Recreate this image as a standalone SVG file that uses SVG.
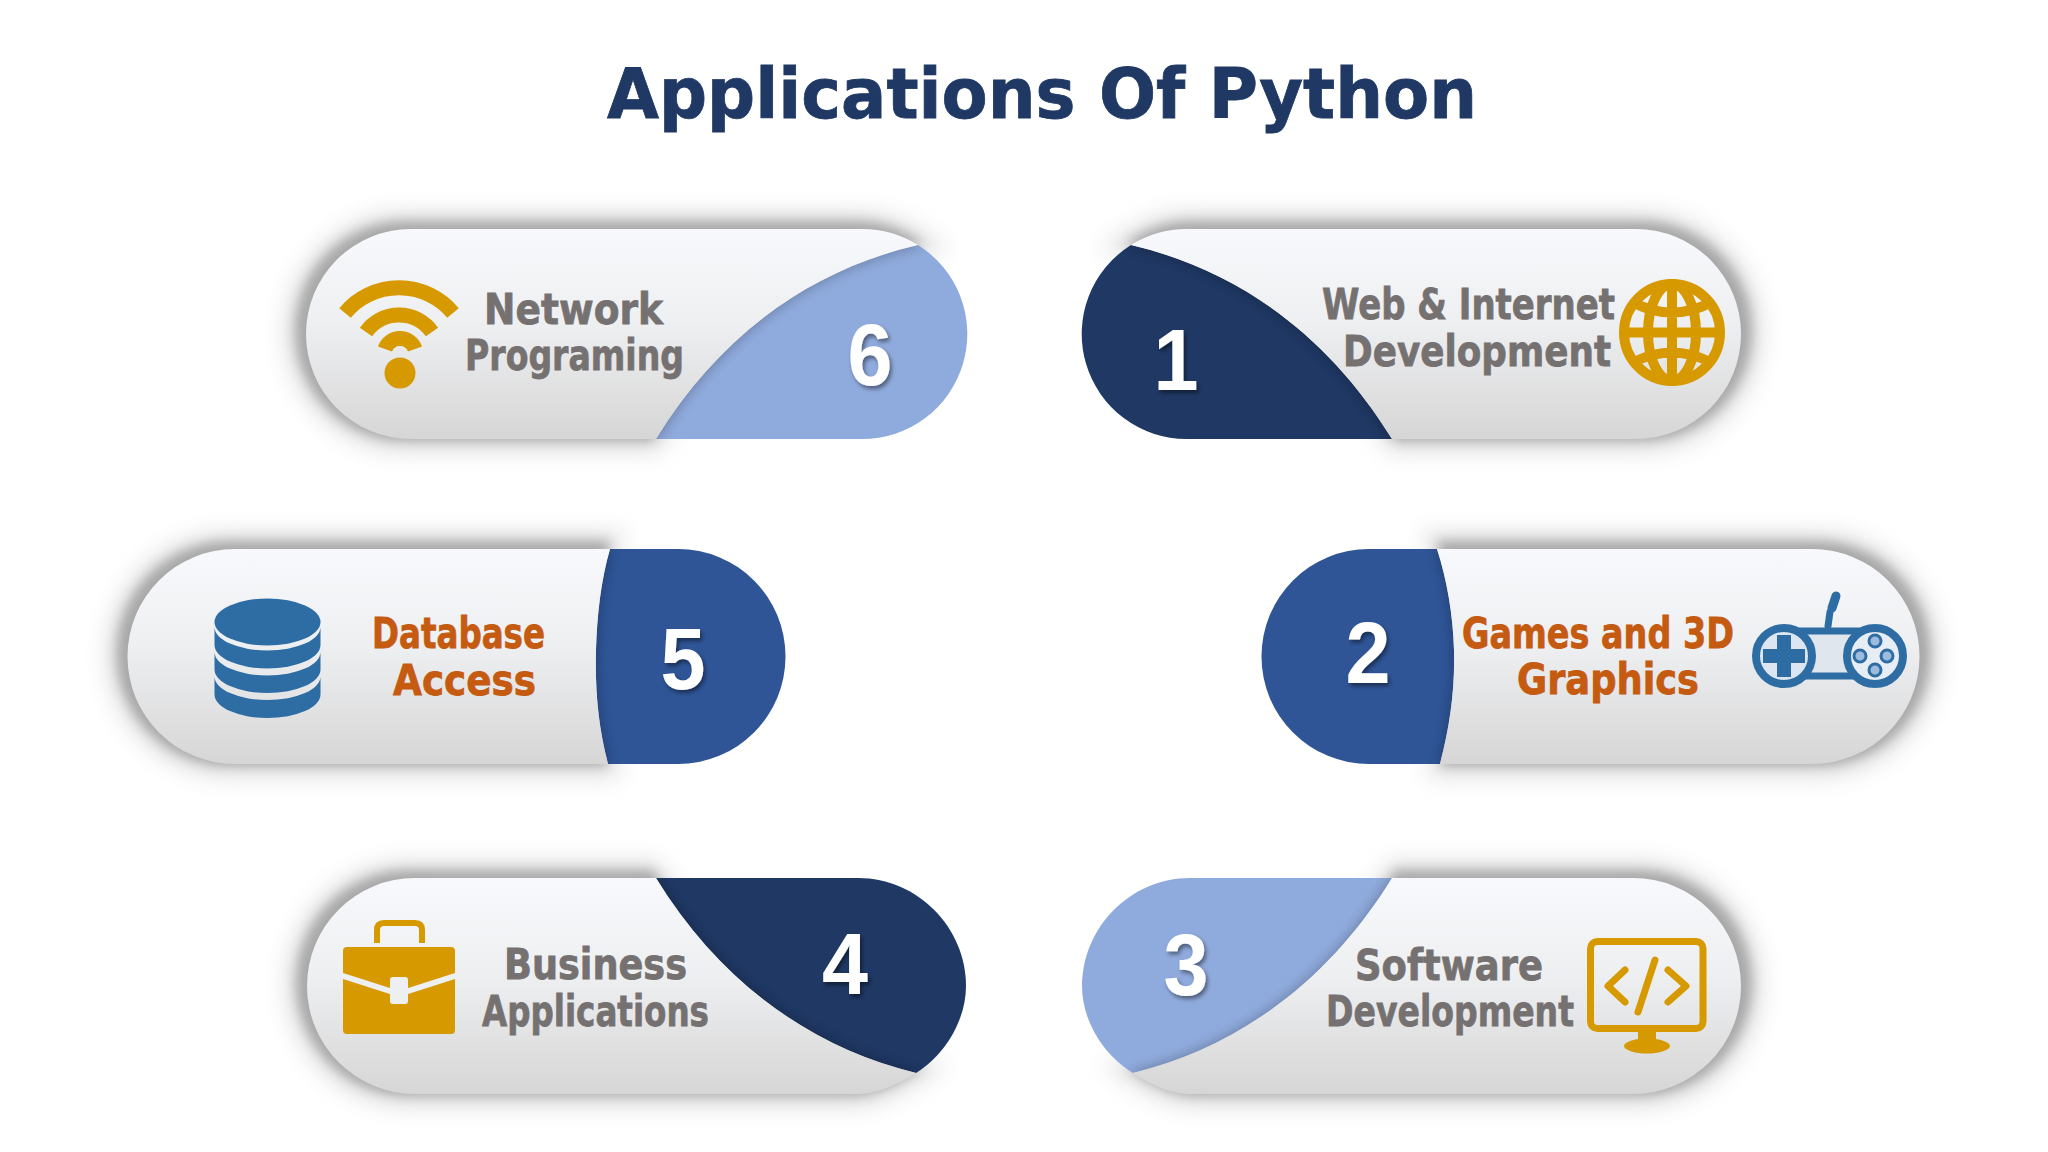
<svg xmlns="http://www.w3.org/2000/svg" xmlns:xlink="http://www.w3.org/1999/xlink" width="2048" height="1152" viewBox="0 0 2048 1152">
<style>
.title{font:bold 69px "DejaVu Sans",Verdana,sans-serif;fill:#1f3864;stroke:#1f3864;stroke-width:.8}
.lb{font:bold 42px "DejaVu Sans",Verdana,sans-serif;fill:#767171;stroke:#767171;stroke-width:.8}
.or{fill:#c55a11;stroke:#c55a11}
.num{font:bold 88px "Liberation Sans",Arial,sans-serif;fill:#fff;text-anchor:middle;filter:url(#ts)}
.pill{fill:url(#pg)}
.sh{fill:#707070;stroke:#707070;stroke-width:10;filter:url(#bl);opacity:.5}
.sh2{fill:#aaa;stroke:#aaa;stroke-width:30;filter:url(#bl2);opacity:.36}
.ish{fill:#000;stroke:#000;stroke-width:4;filter:url(#bl);opacity:.22}
.gold{fill:#d69a00}
.gs{fill:none;stroke:#d69a00}
.bl{fill:#2e6da4}
.bs{fill:none;stroke:#2e6da4}
</style>
<defs>
<linearGradient id="pg" x1="0" y1="0" x2="0" y2="1"><stop offset="0" stop-color="#f7f9fc"/><stop offset=".45" stop-color="#eeeff1"/><stop offset="1" stop-color="#d6d6d6"/></linearGradient>
<filter id="bl" x="-10%" y="-25%" width="120%" height="150%"><feGaussianBlur stdDeviation="6"/></filter>
<filter id="bl2" x="-10%" y="-30%" width="120%" height="160%"><feGaussianBlur stdDeviation="11"/></filter>
<filter id="ts" x="-30%" y="-30%" width="170%" height="170%"><feDropShadow dx="2" dy="3" stdDeviation="2" flood-color="#000" flood-opacity=".45"/></filter>
<path id="g6" d="M411 229H862A105 105 0 0 1 918 245C810 270 720 335 656 439H411A105 105 0 0 1 411 229Z"/>
<path id="g1" d="M1636 229H1187A105 105 0 0 0 1131 245C1238 270 1328 335 1392 439H1636A105 105 0 0 0 1636 229Z"/>
<path id="g2" d="M1437 549H1812A107.500 107.500 0 0 1 1812 764H1440C1450 725 1455 690 1454 650C1453 615 1447 580 1437 549Z"/>
<path id="g5" d="M610 549H235A107.500 107.500 0 0 0 235 764H608C598 725 595 690 596 650C597 615 601 580 610 549Z"/>
<path id="g4" d="M415 878H656C720 982 810 1047 916 1073C895 1086 875 1094 858 1094H415A108 108 0 0 1 415 878Z"/>
<path id="g3" d="M1633 878H1392C1328 982 1238 1047 1133 1073C1153 1086 1173 1094 1190 1094H1633A108 108 0 0 0 1633 878Z"/>
<clipPath id="c6"><path d="M918 245A105 105 0 0 1 862 439H656C720 335 810 270 918 245Z"/></clipPath>
<clipPath id="c1"><path d="M1131 245A105 105 0 0 0 1187 439H1392C1328 335 1238 270 1131 245Z"/></clipPath>
<clipPath id="c2"><path d="M1437 549H1369A107.500 107.500 0 0 0 1369 764H1440C1450 725 1455 690 1454 650C1453 615 1447 580 1437 549Z"/></clipPath>
<clipPath id="c5"><path d="M610 549H678A107.500 107.500 0 0 1 678 764H608C598 725 595 690 596 650C597 615 601 580 610 549Z"/></clipPath>
<clipPath id="c4"><path d="M656 878H858C918 878 966 928 966 986C966 1020 945 1055 916 1073C810 1047 720 982 656 878Z"/></clipPath>
<clipPath id="c3"><path d="M1392 878H1190C1130 878 1082 928 1082 986C1082 1020 1103 1055 1133 1073C1238 1047 1328 982 1392 878Z"/></clipPath>
</defs>
<rect width="2048" height="1152" fill="#fff"/>
<text class="title" x="607" y="118" textLength="870" lengthAdjust="spacingAndGlyphs">Applications Of Python</text>

<g id="node-6">
<use href="#g6" class="sh2" x="-6" y="-2"/><use href="#g6" class="sh" x="-6" y="-3"/>
<path fill="#8faadc" d="M918 245A105 105 0 0 1 862 439H656C720 335 810 270 918 245Z"/>
<g clip-path="url(#c6)"><use href="#g6" class="ish"/></g>
<use href="#g6" class="pill"/>
<text class="num" x="870" y="385" textLength="45" lengthAdjust="spacingAndGlyphs">6</text>
<text class="lb" x="484" y="324" textLength="179" lengthAdjust="spacingAndGlyphs">Network</text>
<text class="lb" x="465" y="370" textLength="219" lengthAdjust="spacingAndGlyphs">Programing</text>
<g class="gs" stroke-width="15"><path d="M345 313A70.500 70.500 0 0 1 453 313"/><path d="M366 332A40.500 40.500 0 0 1 432 332"/><path d="M385 349A16 16 0 0 1 415 349"/></g>
<circle class="gold" cx="400" cy="373" r="15.500"/>
</g>

<g id="node-1">
<use href="#g1" class="sh2" x="6" y="-2"/><use href="#g1" class="sh" x="6" y="-3"/>
<path fill="#1f3864" d="M1131 245A105 105 0 0 0 1187 439H1392C1328 335 1238 270 1131 245Z"/>
<g clip-path="url(#c1)"><use href="#g1" class="ish"/></g>
<use href="#g1" class="pill"/>
<text class="num" x="1176" y="390" textLength="45" lengthAdjust="spacingAndGlyphs">1</text>
<text class="lb" x="1322" y="319" textLength="293" lengthAdjust="spacingAndGlyphs">Web &amp; Internet</text>
<text class="lb" x="1343" y="366" textLength="268" lengthAdjust="spacingAndGlyphs">Development</text>
<g class="gs" stroke-width="10"><ellipse cx="1672" cy="332.500" rx="48" ry="48.500"/><ellipse cx="1672" cy="332.500" rx="24" ry="48.500"/><path d="M1672 284V381M1624 332.500H1720M1634 303Q1672 322 1710 303M1634 362Q1672 343 1710 362"/></g>
</g>

<g id="node-2">
<use href="#g2" class="sh2" x="6" y="-2"/><use href="#g2" class="sh" x="6" y="-3"/>
<path fill="#2f5597" d="M1437 549H1369A107.500 107.500 0 0 0 1369 764H1440C1450 725 1455 690 1454 650C1453 615 1447 580 1437 549Z"/>
<g clip-path="url(#c2)"><use href="#g2" class="ish"/></g>
<use href="#g2" class="pill"/>
<text class="num" x="1368" y="683" textLength="45" lengthAdjust="spacingAndGlyphs">2</text>
<text class="lb or" x="1462" y="648" textLength="272" lengthAdjust="spacingAndGlyphs">Games and 3D</text>
<text class="lb or" x="1517" y="694" textLength="182" lengthAdjust="spacingAndGlyphs">Graphics</text>
<path class="bs" stroke-width="7" stroke-linecap="round" d="M1828 626L1830 612"/>
<path class="bs" stroke-width="9" stroke-linecap="round" d="M1832 608L1836 596"/>
<rect x="1800" y="631" width="60" height="45" fill="#dfe6ee" stroke="#2e6da4" stroke-width="7"/>
<circle cx="1784" cy="656" r="28" fill="#dce6f1" stroke="#2e6da4" stroke-width="8"/>
<circle cx="1875" cy="656" r="28" fill="#e6edf5" stroke="#2e6da4" stroke-width="8"/>
<path class="bl" d="M1777 635H1791V649H1805V663H1791V677H1777V663H1763V649H1777Z"/>
<g fill="#9dbbdc" stroke="#2e6da4" stroke-width="3"><circle cx="1875" cy="641" r="6"/><circle cx="1860" cy="656" r="6"/><circle cx="1887" cy="656" r="6"/><circle cx="1875" cy="670" r="6"/></g>
</g>

<g id="node-5">
<use href="#g5" class="sh2" x="-6" y="-2"/><use href="#g5" class="sh" x="-6" y="-3"/>
<path fill="#2f5597" d="M610 549H678A107.500 107.500 0 0 1 678 764H608C598 725 595 690 596 650C597 615 601 580 610 549Z"/>
<g clip-path="url(#c5)"><use href="#g5" class="ish"/></g>
<use href="#g5" class="pill"/>
<text class="num" x="683" y="689" textLength="45" lengthAdjust="spacingAndGlyphs">5</text>
<text class="lb or" x="372" y="648" textLength="173" lengthAdjust="spacingAndGlyphs">Database</text>
<text class="lb or" x="393" y="695" textLength="143" lengthAdjust="spacingAndGlyphs">Access</text>
<ellipse class="bl" cx="267.500" cy="622" rx="53" ry="23.500"/>
<path class="bl" d="M214.500 627A53 23.500 0 0 0 320.500 627V645A53 23.500 0 0 1 214.500 645Z"/>
<path class="bl" d="M214.500 652A53 23.500 0 0 0 320.500 652V669.500A53 23.500 0 0 1 214.500 669.500Z"/>
<path class="bl" d="M214.500 676.500A53 23.500 0 0 0 320.500 676.500V694.500A53 23.500 0 0 1 214.500 694.500Z"/>
</g>

<g id="node-4">
<use href="#g4" class="sh2" x="-6" y="-2"/><use href="#g4" class="sh" x="-6" y="-3"/>
<path fill="#1f3864" d="M656 878H858C918 878 966 928 966 986C966 1020 945 1055 916 1073C810 1047 720 982 656 878Z"/>
<g clip-path="url(#c4)"><use href="#g4" class="ish"/></g>
<use href="#g4" class="pill"/>
<text class="num" x="845" y="994" textLength="46" lengthAdjust="spacingAndGlyphs">4</text>
<text class="lb" x="504" y="979" textLength="183" lengthAdjust="spacingAndGlyphs">Business</text>
<text class="lb" x="482" y="1026" textLength="227" lengthAdjust="spacingAndGlyphs">Applications</text>
<path class="gs" stroke-width="6" d="M377 943V930Q377 923 384 923H415Q422 923 422 930V943"/>
<rect class="gold" x="343" y="947" width="112" height="87" rx="4"/>
<path fill="#eeeff1" d="M343 973L393 989V995L343 979ZM455 973L405 989V995L455 979Z"/>
<rect x="390" y="977" width="18" height="27" rx="3" fill="#eeeff1"/>
</g>

<g id="node-3">
<use href="#g3" class="sh2" x="6" y="-2"/><use href="#g3" class="sh" x="6" y="-3"/>
<path fill="#8faadc" d="M1392 878H1190C1130 878 1082 928 1082 986C1082 1020 1103 1055 1133 1073C1238 1047 1328 982 1392 878Z"/>
<g clip-path="url(#c3)"><use href="#g3" class="ish"/></g>
<use href="#g3" class="pill"/>
<text class="num" x="1186" y="995" textLength="45" lengthAdjust="spacingAndGlyphs">3</text>
<text class="lb" x="1355" y="980" textLength="188" lengthAdjust="spacingAndGlyphs">Software</text>
<text class="lb" x="1326" y="1026" textLength="248" lengthAdjust="spacingAndGlyphs">Development</text>
<rect class="gs" x="1590.500" y="941.500" width="112.500" height="87" rx="7" stroke-width="7"/>
<rect class="gold" x="1638" y="1030" width="18" height="14"/>
<ellipse class="gold" cx="1647" cy="1046" rx="23" ry="7.500"/>
<g class="gs" stroke-width="7" stroke-linecap="round" stroke-linejoin="round"><path d="M1625 970L1608 986L1625 1002M1668 970L1686 986L1668 1002M1655 960L1638 1012"/></g>
</g>
</svg>
